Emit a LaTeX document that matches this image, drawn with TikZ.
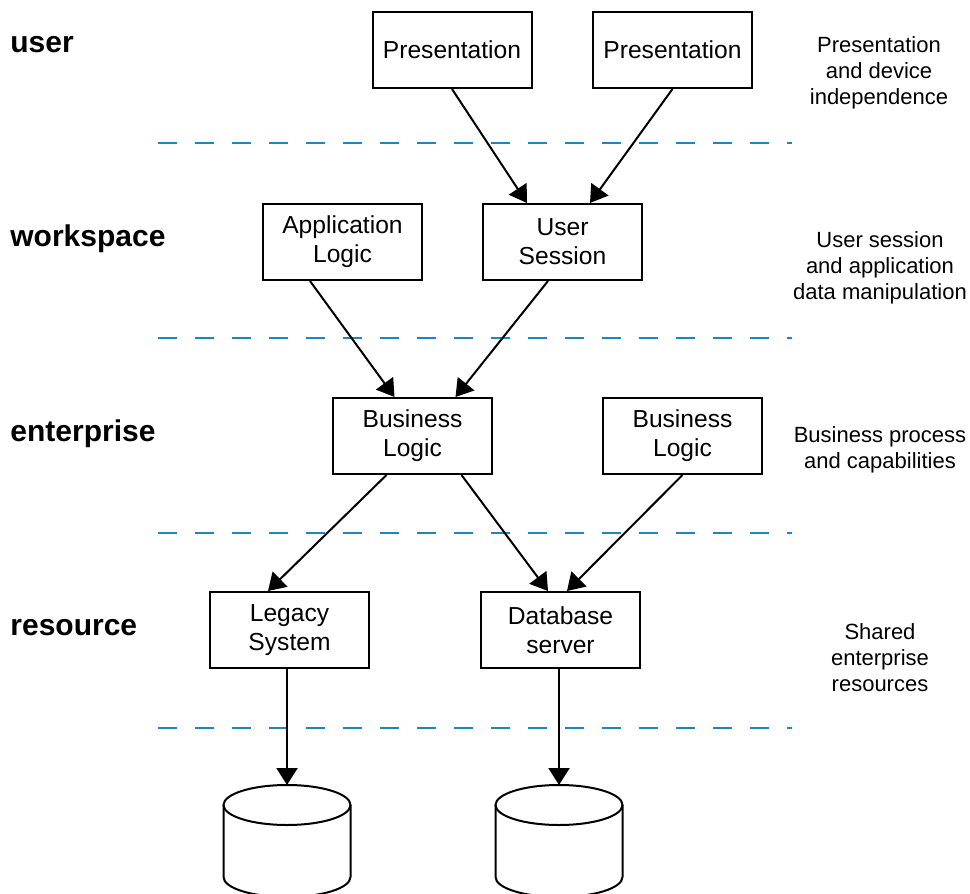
\documentclass[tikz,border=0pt]{standalone}
\usepackage{fontspec}
\setmainfont{Liberation Sans}
\usepackage[svgnames]{xcolor}
\usepackage{tikz}
\usetikzlibrary{arrows.meta}
\definecolor{tierLine}{RGB}{28,134,190}
\colorlet{boxLine}{black}

\begin{document}
\begin{tikzpicture}[
  x=0.5pt,
  y=-0.5pt,
  component/.style={
    draw=boxLine,
    line width=1pt,
    minimum width=79.5pt,
    minimum height=38pt,
    inner sep=0pt,
    align=center,
    font=\fontsize{12.3}{14.5}\selectfont
  },
  flow/.style={
    line width=1pt,
    -{Triangle[length=8.5pt,width=10.5pt]}
  },
  tier name/.style={
    anchor=base west,
    inner sep=0pt,
    font=\fontsize{15}{18}\selectfont\bfseries
  },
  tier note/.style={
    inner sep=0pt,
    align=center,
    font=\fontsize{11}{13}\selectfont
  },
  tier border/.style={
    draw=tierLine,
    line width=1.3pt,
    dash pattern=on 9.5pt off 9pt
  }
]
\useasboundingbox (0,0) rectangle (970,894);

% layer borders
\foreach \ly in {143,338,533,728}
  \draw[tier border] (158,\ly) -- (792,\ly);

% layer names
\node[tier name] (user) at (10,52) {user};
\node[tier name] (workspace) at (10,246) {workspace};
\node[tier name] (enterprise) at (10,441) {enterprise};
\node[tier name] (resource) at (10,635) {resource};

% layer notes
\node[tier note] (noteUser) at (879,73) {Presentation\\and device\\independence};
\node[tier note] (noteWork) at (880,268) {User session\\and application\\data manipulation};
\node[tier note] (noteEnt) at (880,450) {Business process\\and capabilities};
\node[tier note] (noteRes) at (880,658) {Shared\\enterprise\\resources};

% components
\node[component] (presA) at (452,50) {Presentation};
\node[component] (presB) at (672.5,50) {Presentation};
\node[component] (appLogic) at (342.5,242) {Application\\Logic};
\node[component] (session) at (562.5,242) {User\\Session};
\node[component] (busA) at (412.5,436) {Business\\Logic};
\node[component] (busB) at (682.5,436) {Business\\Logic};
\node[component] (legacy) at (289.5,630) {Legacy\\System};
\node[component] (dbServer) at (560.5,630) {Database\\server};

% storage
\foreach \cx/\nm in {287/storeA, 559/storeB} {
  \draw[line width=1pt, fill=white] (\cx-63.5,805) -- (\cx-63.5,877)
    arc[start angle=180, end angle=0, x radius=63.5, y radius=20] -- (\cx+63.5,805);
  \draw[line width=1pt] (\cx,805) ellipse[x radius=63.5, y radius=20];
  \coordinate (\nm) at (\cx,785);
}

% connections
\draw[flow] (presA.south) -- ([xshift=-17.75pt]session.north);
\draw[flow] (presB.south) -- ([xshift=13.75pt]session.north);
\draw[flow] ([xshift=-16.25pt]appLogic.south) -- ([xshift=-9pt]busA.north);
\draw[flow] ([xshift=-7.25pt]session.south) -- ([xshift=21.5pt]busA.north);
\draw[flow] ([xshift=-13pt]busA.south) -- ([xshift=-10.75pt]legacy.north);
\draw[flow] ([xshift=24.5pt]busA.south) -- ([xshift=-6.25pt]dbServer.north);
\draw[flow] (busB.south) -- ([xshift=3.25pt]dbServer.north);
\draw[flow] (legacy.south -| storeA) -- (storeA);
\draw[flow] (dbServer.south -| storeB) -- (storeB);
\end{tikzpicture}
\end{document}
